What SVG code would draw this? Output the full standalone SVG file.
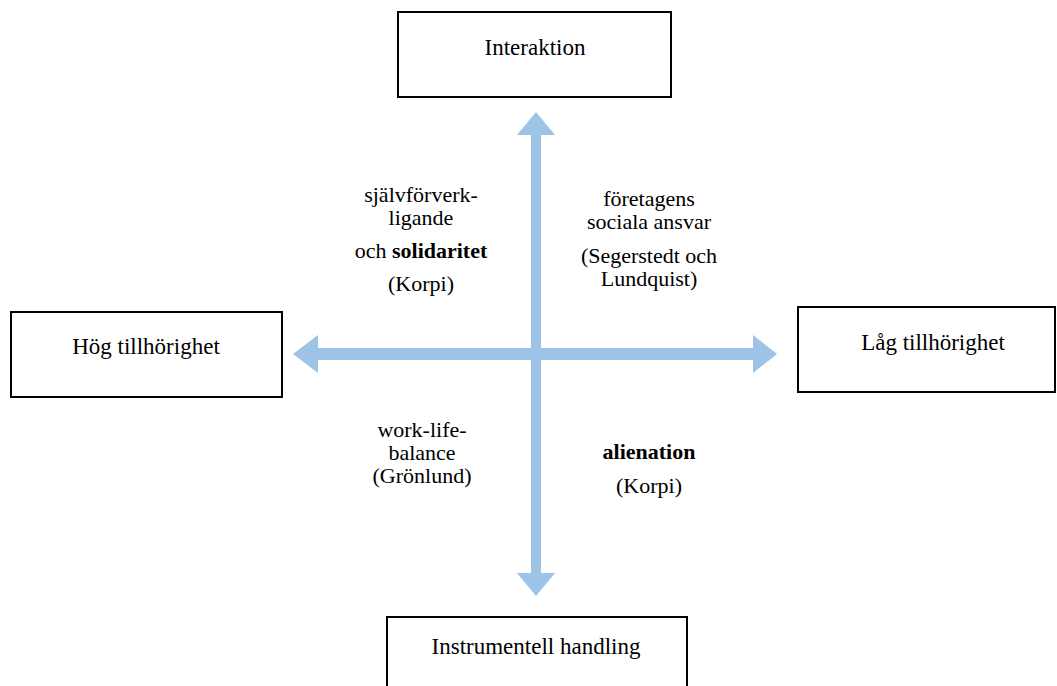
<svg xmlns="http://www.w3.org/2000/svg" width="1057" height="686" viewBox="0 0 1057 686">
<style>
.box{fill:#fff;stroke:#000;stroke-width:2}
.t{font-family:"Liberation Serif","Times New Roman",serif;font-size:22px;fill:#000;text-anchor:middle}
.bl{font-size:23px}
.b{font-weight:bold}
.arr{fill:#9dc3e6}
</style>
<rect width="1057" height="686" fill="#fff"/>
<g id="connectors">
<rect class="arr" x="531" y="134" width="10" height="440"/>
<polygon class="arr" points="536,112 555,135 517,135"/>
<polygon class="arr" points="536,596 555,573 517,573"/>
<rect class="arr" x="317" y="348" width="437" height="12"/>
<polygon class="arr" points="293,354 318,335 318,373"/>
<polygon class="arr" points="777,354 753,335 753,373"/>
</g>
<g id="interaktion">
<rect class="box" x="398" y="12" width="273" height="85"/>
<text class="t bl" x="535" y="55">Interaktion</text>
</g>
<g id="hog">
<rect class="box" x="11" y="312" width="271" height="85"/>
<text class="t bl" x="146" y="354">Hög tillhörighet</text>
</g>
<g id="lag">
<rect class="box" x="798" y="307" width="257" height="85"/>
<text class="t bl" x="933" y="350">Låg tillhörighet</text>
</g>
<g id="instrumentell">
<rect class="box" x="387" y="617" width="300" height="80"/>
<text class="t bl" x="536" y="654">Instrumentell handling</text>
</g>
<g id="q1">
<text class="t" x="421" y="202">självförverk-</text>
<text class="t" x="421" y="225">ligande</text>
<text class="t" x="421" y="258">och <tspan class="b">solidaritet</tspan></text>
<text class="t" x="421" y="291">(Korpi)</text>
</g>
<g id="q2">
<text class="t" x="649" y="206">företagens</text>
<text class="t" x="649" y="229">sociala ansvar</text>
<text class="t" x="649" y="263">(Segerstedt och</text>
<text class="t" x="649" y="286">Lundquist)</text>
</g>
<g id="q3">
<text class="t" x="422" y="437">work-life-</text>
<text class="t" x="422" y="460">balance</text>
<text class="t" x="422" y="483">(Grönlund)</text>
</g>
<g id="q4">
<text class="t b" x="649" y="459">alienation</text>
<text class="t" x="649" y="493">(Korpi)</text>
</g>
</svg>
